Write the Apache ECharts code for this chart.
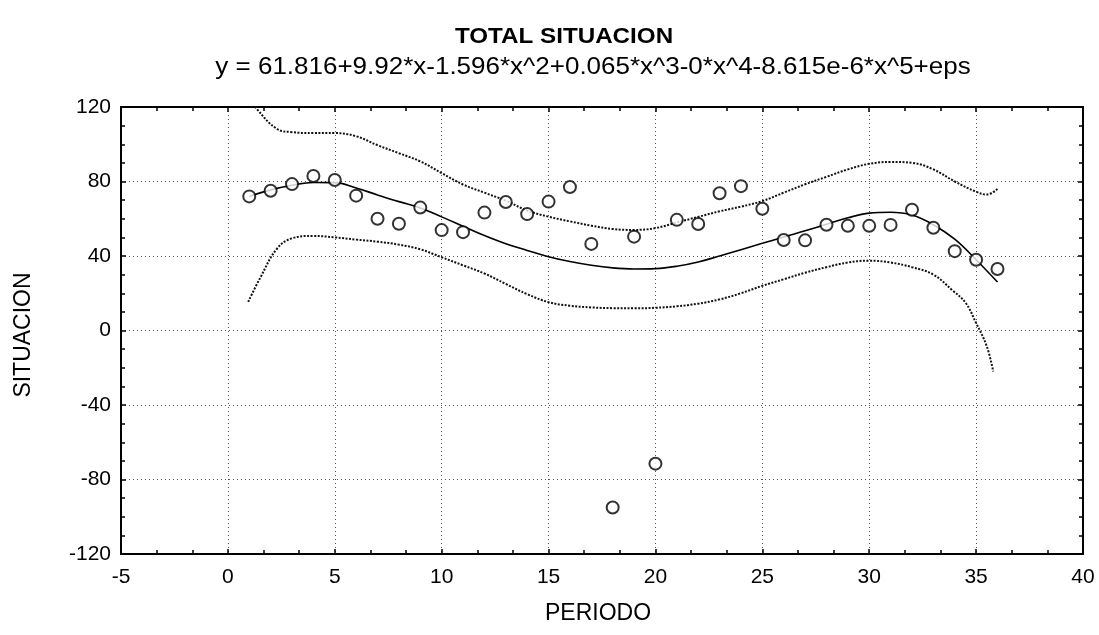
<!DOCTYPE html>
<html>
<head>
<meta charset="utf-8">
<script src="https://cdn.jsdelivr.net/npm/echarts@6/dist/echarts.min.js"></script>
<style>
  html, body { margin: 0; padding: 0; background: #fff; }
  #chart { width: 1099px; height: 635px; }
</style>
</head>
<body>
<div id="chart"></div>
<script>
// Observed values by period
const periods = [1, 2, 3, 4, 5, 6, 7, 8, 9, 10, 11, 12, 13, 14, 15, 16, 17, 18,
                 19, 20, 21, 22, 23, 24, 25, 26, 27, 28, 29, 30, 31, 32, 33, 34, 35, 36];
const situacion = [72, 75, 78.6, 83, 80.8, 72.4, 60, 57.3, 66, 53.9, 52.8, 63.3, 69, 62.5, 69.2, 77, 46.5, -95,
                   50.4, -71.5, 59.4, 57.2, 73.7, 77.5, 65.4, 48.6, 48.4, 56.8, 56.2, 56.2, 56.7, 64.8, 55.2, 42.6, 38, 33];

// Fitted polynomial curve
const fitX = [1, 2, 3, 4, 5, 6, 7, 8, 9, 10, 11, 12, 13, 14, 15, 16, 17, 18,
              19, 20, 21, 22, 23, 24, 25, 26, 27, 28, 29, 30, 31, 32, 33, 34, 35, 36];
const fitY = [72, 75.5, 78, 79.5, 79.4, 76.5, 72.8, 69.2, 65.8, 61, 56, 51, 46.6, 43, 39.6, 37, 35, 33.6,
              33, 33.2, 34.5, 36.8, 40, 43.4, 46.8, 50.2, 53.5, 57, 60.5, 63, 63.5, 62, 56.8, 49, 38, 26];

// Upper confidence band
const upperX = [1, 1.35, 2.3, 3, 4, 5, 6, 7, 8, 9, 10, 11, 12, 13, 14, 15, 16, 17, 18,
                19, 20, 21, 22, 23, 24, 25, 26, 27, 28, 29, 30, 31, 32, 33, 34, 35, 35.5, 36];
const upperY = [125, 119, 108.2, 106.5, 106, 106, 104.3, 99.5, 95.2, 90.8, 84.5, 78.4, 74, 69.7, 64.4, 61.1, 58.6, 56.3, 54.5,
                54, 55, 58, 61, 64, 66.5, 69.5, 74, 78.5, 82.5, 86.5, 89.5, 90.5, 90, 86.5, 80, 74.5, 73, 76];

// Lower confidence band
const lowerX = [0.95, 1.5, 2.3, 3, 4, 5, 6, 7, 8, 9, 10, 11, 12, 13, 14, 15, 16, 17, 18,
                19, 20, 21, 22, 23, 24, 25, 26, 27, 28, 29, 30, 31, 32, 33, 33.9, 34.5, 35, 35.5, 35.8];
const lowerY = [15.4, 28, 44, 49.5, 50.8, 50, 48.8, 47.7, 46.1, 43.6, 39.3, 35, 30.6, 25, 19.5, 15.2, 13.3, 12.4, 12,
                11.9, 12.2, 13, 14.4, 16.7, 20, 24, 27.5, 31, 34, 36.5, 37.5, 36.5, 34, 30, 21.5, 15, 4, -8.5, -22];

const titleText = 'TOTAL SITUACION';
const equationText = 'y = 61.816+9.92*x-1.596*x^2+0.065*x^3-0*x^4-8.615e-6*x^5+eps';
const xName = 'PERIODO';
const yName = 'SITUACION';

const pairs = (xs, ys) => xs.map((x, i) => [x, ys[i]]);

const FONT = '"Liberation Sans", Arial, Helvetica, sans-serif';

const frameAxisLine = { show: true, onZero: false, lineStyle: { color: '#000', width: 2 } };
const gridLine = { show: true, lineStyle: { color: '#555', width: 1, type: [1, 3] } };

const xCommon = {
  type: 'value', min: -5, max: 40, interval: 5,
  axisLine: frameAxisLine,
  axisTick: { show: true, inside: true, length: 5, lineStyle: { color: '#000', width: 1.5 } },
  minorTick: { show: true, splitNumber: 3, length: 4, lineStyle: { color: '#000', width: 1.5 } }
};
const yCommon = {
  type: 'value', min: -120, max: 120, interval: 40,
  axisLine: frameAxisLine,
  axisTick: { show: true, inside: true, length: 5, lineStyle: { color: '#000', width: 1.5 } },
  minorTick: { show: true, splitNumber: 4, length: 4, lineStyle: { color: '#000', width: 1.5 } }
};

const chart = echarts.init(document.getElementById('chart'), null, { renderer: 'canvas' });

chart.setOption({
  backgroundColor: '#fff',
  animation: false,
  grid: { left: 121, right: 16, top: 107, bottom: 81, show: false },
  xAxis: [
    Object.assign({}, xCommon, {
      position: 'bottom',
      axisLabel: { color: '#000', fontSize: 21, fontFamily: FONT, margin: 13 },
      splitLine: gridLine
    }),
    Object.assign({}, xCommon, {
      position: 'top',
      axisLabel: { show: false },
      splitLine: { show: false }
    })
  ],
  yAxis: [
    Object.assign({}, yCommon, {
      position: 'left',
      axisLabel: { color: '#000', fontSize: 21, fontFamily: FONT, margin: 10 },
      splitLine: gridLine
    }),
    Object.assign({}, yCommon, {
      position: 'right',
      axisLabel: { show: false },
      splitLine: { show: false }
    })
  ],
  graphic: [
    { type: 'text', x: 564, y: 37, scaleX: 1.1, style: { text: titleText, font: 'bold 22px ' + FONT, fill: '#000', textAlign: 'center', textVerticalAlign: 'middle' } },
    { type: 'text', x: 593, y: 68, scaleX: 1.13, style: { text: equationText, font: '23px ' + FONT, fill: '#000', textAlign: 'center', textVerticalAlign: 'middle' } },
    { type: 'text', x: 598, y: 614, style: { text: xName, font: '23px ' + FONT, fill: '#000', textAlign: 'center', textVerticalAlign: 'middle' } },
    { type: 'text', x: 24, y: 335, rotation: Math.PI / 2, style: { text: yName, font: '23px ' + FONT, fill: '#000', textAlign: 'center', textVerticalAlign: 'middle' } }
  ],
  series: [
    {
      name: 'upper', type: 'line', data: pairs(upperX, upperY), smooth: 0.4, symbol: 'none', clip: true,
      lineStyle: { color: '#111', width: 2, type: [2, 1.5] }, z: 3
    },
    {
      name: 'lower', type: 'line', data: pairs(lowerX, lowerY), smooth: 0.4, symbol: 'none', clip: true,
      lineStyle: { color: '#111', width: 2, type: [2, 1.5] }, z: 3
    },
    {
      name: 'fit', type: 'line', data: pairs(fitX, fitY), smooth: 0.4, symbol: 'none', clip: true,
      lineStyle: { color: '#000', width: 1.6 }, z: 4
    },
    {
      name: 'observed', type: 'scatter', data: pairs(periods, situacion), symbol: 'circle', symbolSize: 12,
      itemStyle: { color: '#fff', borderColor: '#000', borderWidth: 2 }, z: 5
    }
  ]
});
</script>
</body>
</html>
